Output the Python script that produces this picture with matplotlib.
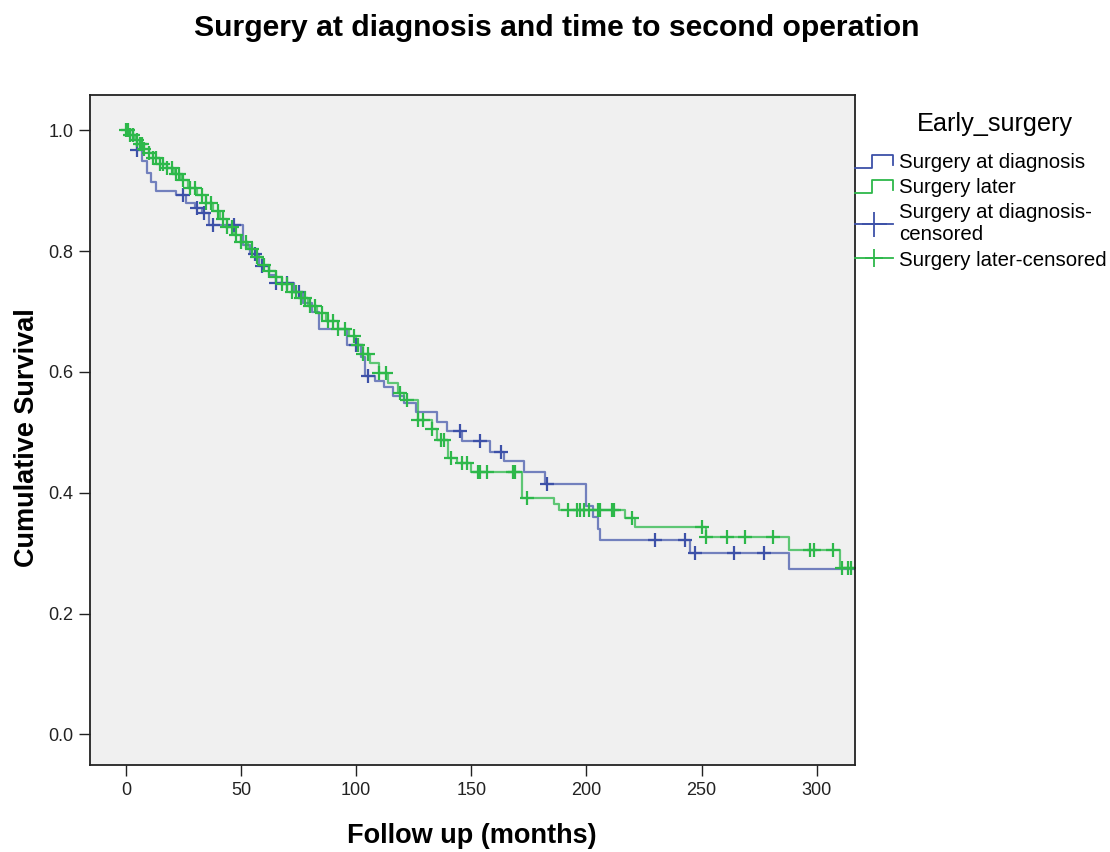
import numpy as np
import matplotlib
matplotlib.use("Agg")
import matplotlib.pyplot as plt
from matplotlib.lines import Line2D
from matplotlib.legend_handler import HandlerBase

plt.rcParams['font.family'] = ['Liberation Sans', 'DejaVu Sans']

# Kaplan-Meier steps: (time in months, cumulative survival)
diag_t = [0, 3, 5, 7, 9, 11, 13, 22, 26, 30, 33, 36, 51, 54, 58, 62, 65, 73, 77,
          81, 84, 96, 102, 104, 108, 112, 116, 121, 126, 135, 139.5, 146, 158,
          164, 173, 182, 200, 203, 205, 206, 245, 288, 316]
diag_s = [1.0, 0.985, 0.967, 0.95, 0.93, 0.915, 0.9, 0.893, 0.88, 0.871, 0.864,
          0.843, 0.81, 0.795, 0.775, 0.76, 0.748, 0.732, 0.715, 0.7, 0.672, 0.645,
          0.624, 0.594, 0.585, 0.575, 0.56, 0.548, 0.533, 0.517, 0.502, 0.485,
          0.468, 0.452, 0.434, 0.414, 0.378, 0.36, 0.34, 0.321, 0.30, 0.273, 0.273]
diag_cens = [5, 25, 31, 34, 38, 47, 56, 59, 65, 70, 75, 100, 105, 145, 154, 163,
             183, 230, 243, 247, 264, 277]

later_t = [0, 2, 4, 6, 8, 10, 12, 15, 18, 21, 24, 27, 31, 35, 38, 41, 44, 47, 50,
           53, 56, 59, 62, 65, 68, 72, 75, 79, 83, 87, 92, 97, 100, 103, 106, 110,
           114, 118, 121, 127, 133, 135, 140, 144, 150, 172, 186, 188, 216.6, 221,
           252, 288, 310, 316]
later_s = [1.0, 0.993, 0.985, 0.977, 0.97, 0.962, 0.955, 0.945, 0.937, 0.928,
           0.918, 0.905, 0.893, 0.88, 0.866, 0.853, 0.84, 0.827, 0.815, 0.803,
           0.79, 0.778, 0.768, 0.757, 0.745, 0.733, 0.722, 0.71, 0.697, 0.685,
           0.672, 0.66, 0.645, 0.63, 0.615, 0.598, 0.582, 0.566, 0.553, 0.521,
           0.505, 0.488, 0.457, 0.45, 0.434, 0.392, 0.382, 0.371, 0.358, 0.343,
           0.326, 0.305, 0.276, 0.276]
later_cens = [0, 1, 2, 3, 5, 6, 7, 8, 10, 12, 13, 15, 16, 18, 20, 22, 23, 25, 28,
              30, 33, 35, 37, 40, 42, 44, 46, 48, 50, 52, 55, 57, 60, 62, 65, 68,
              70, 72, 74, 76, 78, 80, 82, 85, 88, 90, 92, 95, 99, 101, 103, 105,
              110, 113, 119, 122, 127, 129, 133, 137, 138, 141, 146, 148, 153, 154,
              157, 168, 169, 174, 192, 196, 197, 199, 201, 205, 206, 211, 212, 220,
              250, 252, 261, 269, 281, 297, 299, 307, 311, 313.5, 315]

BLUE = '#3d51a8'
GREEN = '#2db84a'


def surv_at(t_steps, s_steps, times):
    idx = np.searchsorted(t_steps, times, side='right') - 1
    return np.asarray(s_steps)[idx]


class StepHandler(HandlerBase):
    def create_artists(self, legend, orig_handle, xdescent, ydescent,
                       width, height, fontsize, trans):
        x0 = -xdescent
        xs = [x0, x0 + 0.45 * width, x0 + 0.45 * width, x0 + width, x0 + width]
        ys = [0.0 * height, 0.0 * height, 0.9 * height, 0.9 * height, 0.2 * height]
        ys = [y - ydescent for y in ys]
        ln = Line2D(xs, ys, color=orig_handle.get_color(), lw=1.3, transform=trans)
        return [ln]


fig = plt.figure(figsize=(11.1, 8.52), dpi=100)
ax = fig.add_axes([0.081, 0.102, 0.689, 0.786])
ax.set_facecolor('#f0f0f0')

ax.step(diag_t, diag_s, where='post', color=BLUE, lw=1.6, alpha=0.7)
ax.step(later_t, later_s, where='post', color=GREEN, lw=1.6, alpha=0.75)
ax.plot(diag_cens, surv_at(diag_t, diag_s, diag_cens), '+', color=BLUE,
        ms=10, mew=1.6, ls='none')
ax.plot(later_cens, surv_at(later_t, later_s, later_cens), '+', color=GREEN,
        ms=10, mew=1.6, ls='none')

ax.set_xlim(-15.6, 316.5)
ax.set_ylim(-0.051, 1.058)
ax.set_xticks([0, 50, 100, 150, 200, 250, 300])
ax.set_yticks([0.0, 0.2, 0.4, 0.6, 0.8, 1.0])
ax.set_yticklabels(['0.0', '0.2', '0.4', '0.6', '0.8', '1.0'])
ax.tick_params(direction='out', length=8, width=1, labelsize=13,
               colors='#222222', pad=4)
for sp in ax.spines.values():
    sp.set_linewidth(1.3)
    sp.set_color('#222222')

ax.set_xlabel('Follow up (months)', fontsize=19.5, fontweight='bold')
ax.set_ylabel('Cumulative Survival', fontsize=19.5, fontweight='bold')
ax.xaxis.set_label_coords(0.5, -0.086)
ax.yaxis.set_label_coords(-0.065, 0.489)
fig.text(0.502, 1 - 28 / 852, 'Surgery at diagnosis and time to second operation',
         fontsize=21.7, fontweight='bold', ha='center', va='center')

h1 = Line2D([], [], color=BLUE)
h2 = Line2D([], [], color=GREEN)
h3 = Line2D([], [], color=BLUE, marker='+', ms=18, mew=1.3, lw=1.3)
h4 = Line2D([], [], color=GREEN, marker='+', ms=13, mew=1.3, lw=1.3)
leg = fig.legend([h1, h2, h3, h4],
                 ['Surgery at diagnosis', 'Surgery later',
                  'Surgery at diagnosis-\ncensored', 'Surgery later-censored'],
                 title='Early_surgery', loc='upper left',
                 bbox_to_anchor=(0.770, 0.868), frameon=False,
                 fontsize=14.7, title_fontsize=18.2, handlelength=1.86,
                 handletextpad=0.3, labelspacing=0.3, borderaxespad=0,
                 borderpad=0, handler_map={h1: StepHandler(), h2: StepHandler()})
leg._legend_box.align = 'left'
leg._legend_box.sep = 12
leg.get_title().set_position((62, 0))

fig.savefig('out.png', dpi=100)
